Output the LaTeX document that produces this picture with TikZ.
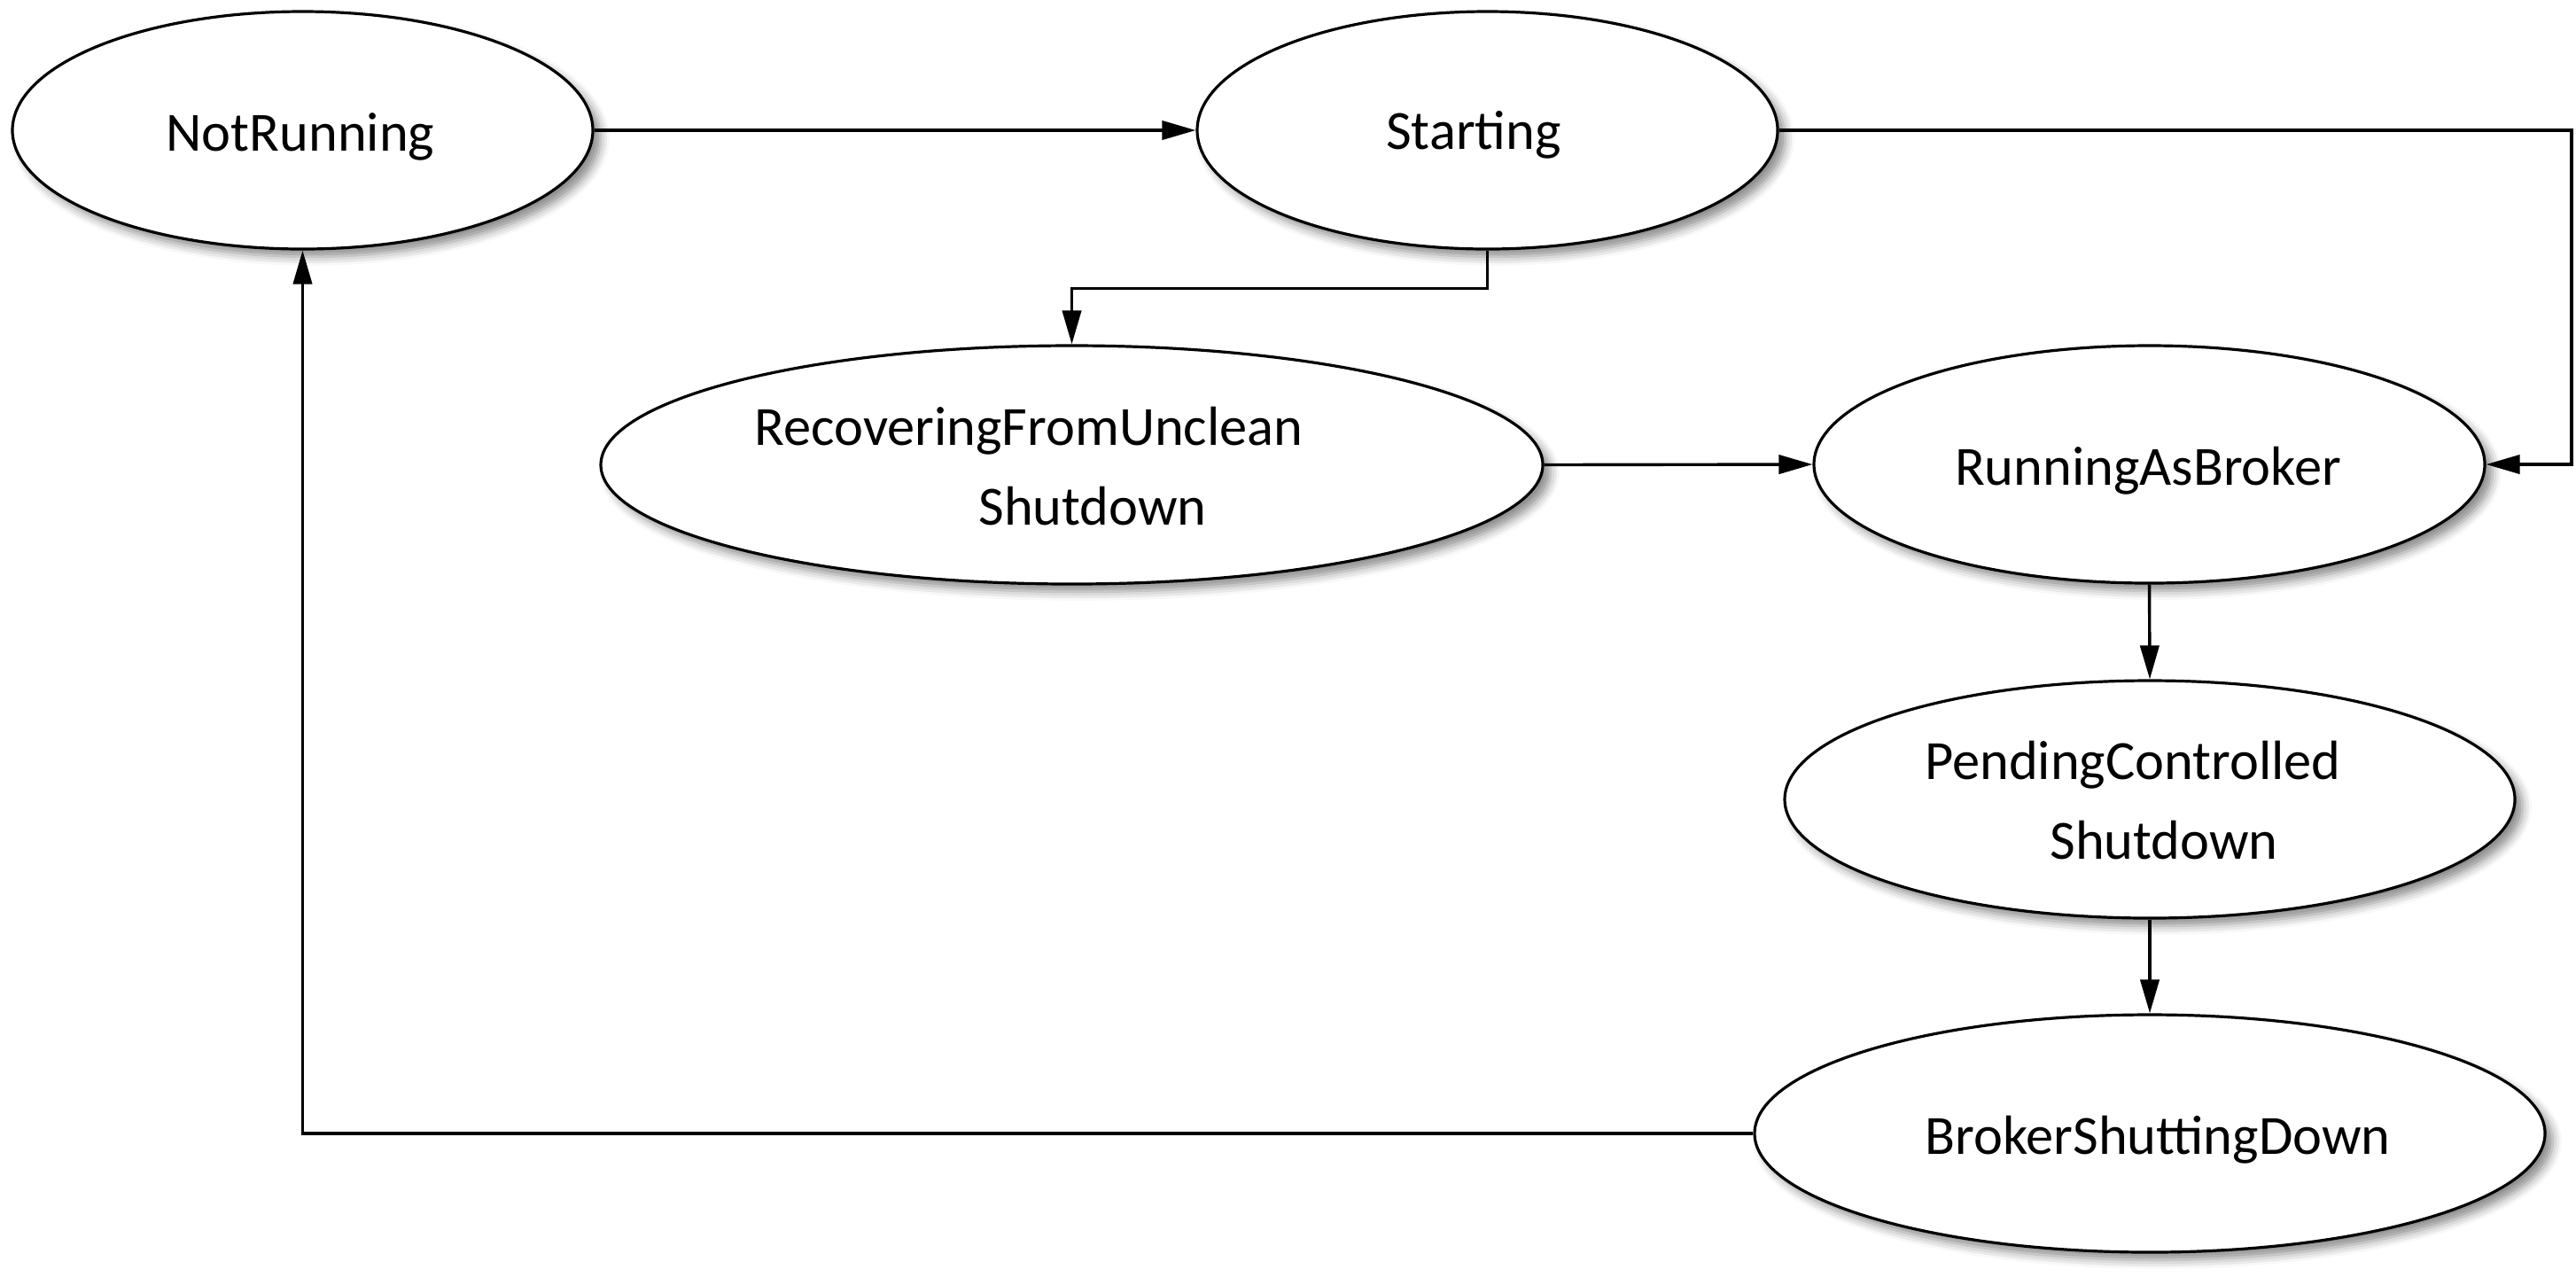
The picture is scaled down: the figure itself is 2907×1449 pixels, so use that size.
\documentclass[tikz,border=0pt]{standalone}
\usepackage{fontspec}
\setmainfont{Carlito}
\usetikzlibrary{arrows.meta,shapes.geometric,shadows.blur}
\begin{document}
\begin{tikzpicture}[x=0.25pt,y=-0.25pt,
  state/.style={ellipse,draw=black,line width=0.8pt,fill=white,inner sep=0pt,
    minimum height=67pt,
    blur shadow={shadow xshift=2.2pt,shadow yshift=-2.2pt,shadow blur radius=2.5pt,shadow opacity=45}},
  lbl/.style={anchor=base,inner sep=0pt,font=\fontsize{15.6}{22.5}\selectfont},
  arr/.style={draw=black,line width=0.85pt,-{Triangle[length=9.5pt,width=5.3pt]}}]
\useasboundingbox (0,0) rectangle (2907,1449);
% states
\node[state,minimum width=163.75pt] (NR) at (341.5,147) {};
\node[state,minimum width=163.75pt] (ST) at (1678.5,147) {};
\node[state,minimum width=265.75pt,minimum height=67.25pt] (REC) at (1209.5,524.5) {};
\node[state,minimum width=189.25pt] (RUN) at (2425.5,524) {};
\node[state,minimum width=206pt] (PEND) at (2426,902) {};
\node[state,minimum width=223pt] (BSD) at (2426,1279) {};
% labels
\node[lbl] (tNR) at (339,170) {NotRunning};
\node[lbl] (tST) at (1663,168.5) {Starting};
\node[lbl] (tREC1) at (1161,502) {RecoveringFromUnclean};
\node[lbl] (tREC2) at (1233,592) {Shutdown};
\node[lbl] (tRUN) at (2424,547) {RunningAsBroker};
\node[lbl] (tPEND1) at (2407,879) {PendingControlled};
\node[lbl] (tPEND2) at (2442,969) {Shutdown};
\node[lbl] (tBSD) at (2435,1302) {BrokerShuttingDown};
% helper coordinates
\coordinate (c1) at (1444,325.5);
\coordinate (c2) at (2902,147);
% connectors
\draw[arr] (NR.east) -- (ST.west);
\draw[arr] (ST.south) |- (c1) -| (REC.north);
\draw[arr] (ST.east) -- (c2) |- (RUN.east);
\draw[arr] (REC.east) -- (RUN.west);
\draw[arr] (RUN.south) -- (PEND.north);
\draw[arr] (PEND.south) -- (BSD.north);
\draw[arr] (BSD.west) -| (NR.south);
\end{tikzpicture}
\end{document}
